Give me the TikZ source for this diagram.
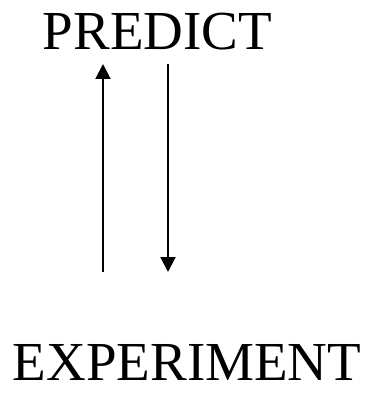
\documentclass[tikz,border=0pt]{standalone}
\usepackage{fontspec}
\setmainfont{Liberation Serif}
\usepackage{tikz}
\usetikzlibrary{arrows.meta, positioning}
\tikzstyle{word} = [inner sep=0pt, anchor=base, font=\fontsize{55}{60}\selectfont]
\tikzstyle{arrow} = [-{Triangle[length=15pt, width=15pt]}, line width=2pt]

\begin{document}
\begin{tikzpicture}[x=1pt, y=-1pt]

  \useasboundingbox (0, 0) rectangle (371, 393);

  \node[word] (predict) at (157.5, 50) {PREDICT};
  \node[word] (experiment) at (187, 380) {EXPERIMENT};

  \coordinate (uptop) at (103, 64);
  \coordinate (upfoot) at (103, 272);
  \coordinate (downtop) at (168, 64);
  \coordinate (downfoot) at (168, 272);

  \draw[arrow] (upfoot) -- (uptop);
  \draw[arrow] (downtop) -- (downfoot);

\end{tikzpicture}
\end{document}
